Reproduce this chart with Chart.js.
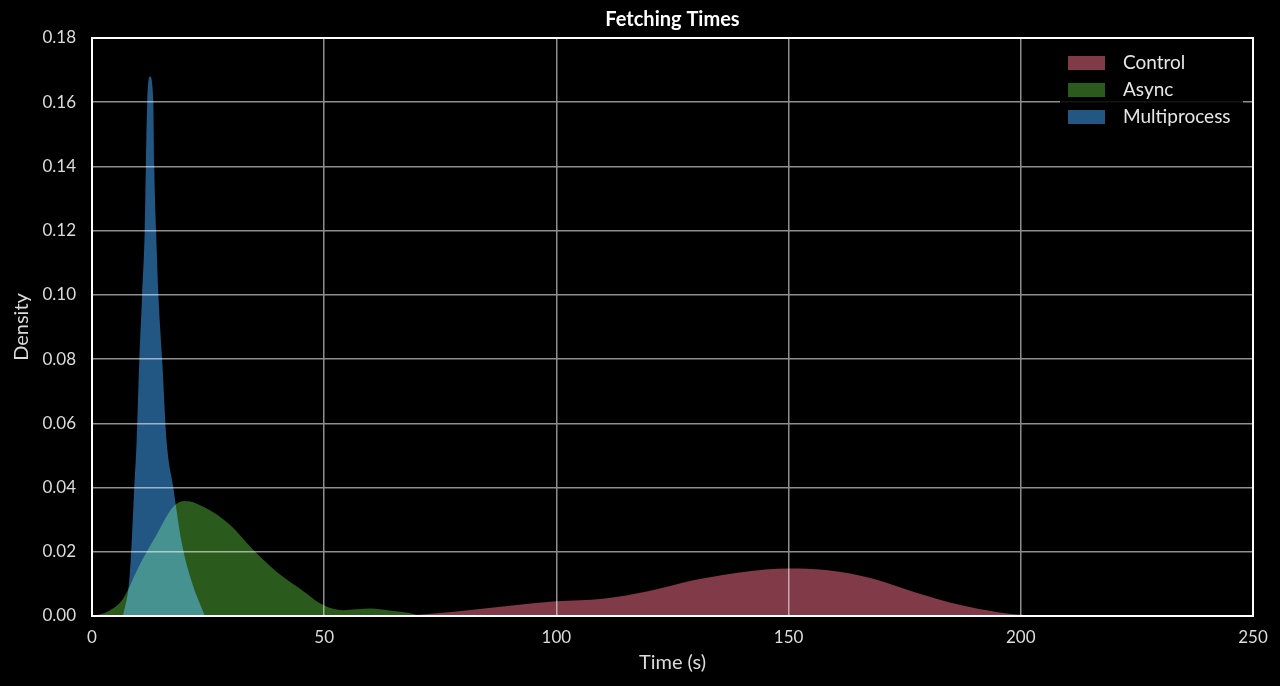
<!DOCTYPE html>
<html>
<head>
<meta charset="utf-8">
<title>Fetching Times</title>
<script src="https://cdn.jsdelivr.net/npm/chart.js@4.4.1/dist/chart.umd.min.js"></script>
<style>
  html, body { margin: 0; padding: 0; background: #000; }
  #wrap { width: 1280px; height: 686px; }
</style>
</head>
<body>
<div id="wrap"><canvas id="fetchChart" width="1280" height="686"></canvas></div>
<script>
// density curves (time in s, density)
const chartTitle = 'Fetching Times';
const seriesNames = ['Control', 'Async', 'Multiprocess'];

const controlTime    = [67, 75, 81, 90, 100, 110, 120, 129, 139, 145, 150, 158, 168, 177, 187, 195, 200, 203];
const controlDensity = [0, 0.0009, 0.0018, 0.0032, 0.0046, 0.0054, 0.0078, 0.011, 0.0135, 0.0145, 0.0148, 0.0143, 0.0117, 0.0075, 0.0034, 0.0012, 0.0004, 0];

const asyncTime    = [0.5, 3.5, 6.7, 10.3, 13.9, 17.5, 20, 24.7, 29.7, 34.7, 39.8, 44.8, 49.8, 54, 60, 64, 68, 71];
const asyncDensity = [0, 0.0015, 0.0054, 0.016, 0.0253, 0.034, 0.0358, 0.0335, 0.0284, 0.0206, 0.0137, 0.0085, 0.0034, 0.0018, 0.0023, 0.0017, 0.001, 0];

const multiTime    = [6.7, 8.0, 8.55, 9.1, 9.6, 10.2, 10.8, 11.35, 11.6, 11.9, 12.5, 13.2, 13.4, 13.8, 14.3, 15.1, 16.1, 17.5, 19.3, 21.5, 24.3];
const multiDensity = [0, 0.0106, 0.023, 0.04, 0.054, 0.08, 0.10, 0.12, 0.14, 0.16, 0.168, 0.16, 0.14, 0.12, 0.10, 0.08, 0.054, 0.04, 0.023, 0.0106, 0];

const xTicks = [0, 50, 100, 150, 200, 250];
const yTicks = [0, 0.02, 0.04, 0.06, 0.08, 0.10, 0.12, 0.14, 0.16, 0.18];

const fillColors = ['#813a47', '#2a5a1c', '#225683'];

const FONT = 'Lato, "DejaVu Sans", sans-serif';

function toPoints(xs, ys) {
  return xs.map((x, i) => ({ x: x, y: ys[i] }));
}

// black canvas + screen blending for the overlapping areas
const blackBg = {
  id: 'blackBg',
  beforeDraw(chart) {
    const ctx = chart.ctx;
    ctx.save();
    ctx.fillStyle = '#000';
    ctx.fillRect(0, 0, chart.width, chart.height);
    ctx.restore();
  },
  beforeDatasetsDraw(chart) {
    chart.ctx.save();
    chart.ctx.globalCompositeOperation = 'screen';
  },
  afterDatasetsDraw(chart) {
    chart.ctx.restore();
  }
};

// white frame, title over the plot and the legend box in the upper right
const frameLegend = {
  id: 'frameLegend',
  afterDraw(chart) {
    const { ctx, chartArea: { left, top, right, bottom } } = chart;
    ctx.save();
    ctx.strokeStyle = '#ffffff';
    ctx.lineWidth = 2;
    ctx.strokeRect(left, top, right - left, bottom - top);

    ctx.fillStyle = '#ffffff';
    ctx.font = 'bold 20px ' + FONT;
    ctx.textAlign = 'center';
    ctx.textBaseline = 'middle';
    ctx.fillText(chartTitle, (left + right) / 2, 20);

    const bx = right - 193, by = top + 9, bw = 183, bh = 90;
    ctx.fillStyle = 'rgba(0,0,0,0.85)';
    ctx.fillRect(bx, by, bw, bh);

    ctx.font = '19px ' + FONT;
    ctx.textAlign = 'left';
    chart.data.datasets.forEach((ds, i) => {
      const cy = by + 16 + i * 27;
      ctx.fillStyle = ds.backgroundColor;
      ctx.fillRect(bx + 8, cy - 7, 37, 14);
      ctx.fillStyle = '#e6e6e6';
      ctx.fillText(ds.label, bx + 63, cy);
    });
    ctx.restore();
  }
};

const datasets = [
  toPoints(controlTime, controlDensity),
  toPoints(asyncTime, asyncDensity),
  toPoints(multiTime, multiDensity)
].map((pts, i) => ({
  label: seriesNames[i],
  data: pts,
  backgroundColor: fillColors[i],
  borderWidth: 0,
  pointRadius: 0,
  fill: 'origin',
  cubicInterpolationMode: 'monotone'
}));

new Chart(document.getElementById('fetchChart'), {
  type: 'line',
  data: { datasets: datasets },
  options: {
    responsive: false,
    animation: false,
    layout: { padding: { left: 0, right: 27, top: 38, bottom: 0 } },
    plugins: {
      legend: { display: false },
      tooltip: { enabled: false },
      title: { display: false }
    },
    scales: {
      x: {
        type: 'linear',
        min: 0,
        max: 250,
        afterBuildTicks(axis) { axis.ticks = xTicks.map(v => ({ value: v })); },
        afterFit(axis) { axis.height = 70; },
        grid: { color: '#8e8e8e', lineWidth: 1.5, drawTicks: false },
        border: { display: false },
        ticks: {
          color: '#dcdcdc',
          font: { family: FONT, size: 17 },
          padding: 11,
          maxRotation: 0
        },
        title: {
          display: true,
          text: 'Time (s)',
          color: '#dcdcdc',
          font: { family: FONT, size: 20 },
          padding: { top: 2, bottom: 11 }
        }
      },
      y: {
        min: 0,
        max: 0.18,
        afterBuildTicks(axis) { axis.ticks = yTicks.map(v => ({ value: v })); },
        afterFit(axis) { axis.width = 92; },
        grid: { color: '#8e8e8e', lineWidth: 1.5, drawTicks: false },
        border: { display: false },
        ticks: {
          color: '#dcdcdc',
          font: { family: FONT, size: 17 },
          padding: 16,
          callback: v => v.toFixed(2)
        },
        title: {
          display: true,
          text: 'Density',
          color: '#dcdcdc',
          font: { family: FONT, size: 20 },
          padding: { top: 10, bottom: 0 }
        }
      }
    }
  },
  plugins: [blackBg, frameLegend]
});
</script>
</body>
</html>
